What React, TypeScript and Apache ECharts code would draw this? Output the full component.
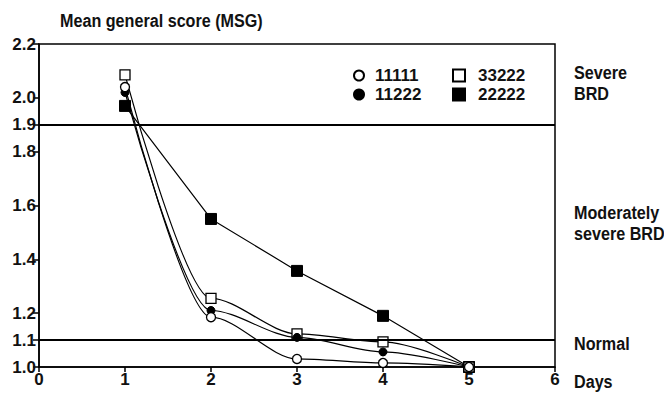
import React, { useEffect, useRef } from "react";
import * as echarts from "echarts";

const days = [1, 2, 3, 4, 5];
const s11111 = [2.04, 1.185, 1.03, 1.015, 1.0];
const s11222 = [2.02, 1.21, 1.11, 1.056, 1.0];
const s33222 = [2.085, 1.255, 1.123, 1.093, 1.0];
const s22222 = [1.97, 1.55, 1.357, 1.19, 1.0];
const yTicks = [1.0, 1.1, 1.2, 1.4, 1.6, 1.8, 1.9, 2.0, 2.2];
const refLines = [1.9, 1.1];
const FONT = "'Liberation Sans', Arial, sans-serif";

export default function App() {
  const ref = useRef<HTMLDivElement>(null);
  useEffect(() => {
    if (!ref.current) return;
    const chart = echarts.init(ref.current, null, { renderer: "svg" });
    const pts = (arr: number[]) => days.map((d, i) => [d, arr[i]]);
    const open = { color: "#fff", borderColor: "#000", borderWidth: 1.3 };
    const filled = { color: "#000", borderColor: "#000", borderWidth: 1 };
    const lineStyle = { color: "#000", width: 1.2 };
    const txt = { fontFamily: FONT, fontSize: 17, fontWeight: "bold" as const, color: "#111" };
    const gfont = `bold 19px ${FONT}`;
    const sx = 0.85;
    const gtext = (left: number, top: number, text: string, extra: any = {}) => ({
      type: "text", x: left, y: top, scaleX: sx,
      style: { fill: "#111", text, font: gfont, lineHeight: 21, ...extra },
    });
    chart.setOption({
      animation: false,
      backgroundColor: "#fff",
      textStyle: { fontFamily: FONT },
      grid: {
        left: 39, right: 109, top: 44, bottom: 27,
        show: true, borderColor: "#000", borderWidth: 1.5,
      },
      legend: [
        {
          left: 348, top: 62, orient: "vertical", itemGap: 2,
          itemWidth: 10, itemHeight: 10,
          textStyle: { ...txt, padding: [0, 0, 0, 6] },
          data: [
            { name: "11111", icon: "circle" },
            { name: "11222", icon: "circle" },
          ],
        },
        {
          left: 447, top: 62, orient: "vertical", itemGap: 2,
          itemWidth: 12, itemHeight: 12,
          textStyle: { ...txt, padding: [0, 0, 0, 8] },
          data: [
            { name: "33222", icon: "rect" },
            { name: "22222", icon: "rect" },
          ],
        },
      ],
      xAxis: {
        type: "value", min: 0, max: 6, interval: 1,
        axisLine: { lineStyle: { color: "#000", width: 1.5 } },
        axisTick: { show: true, length: 5, lineStyle: { color: "#000", width: 1.5 } },
        axisLabel: { ...txt, margin: 4 },
        splitLine: { show: false },
      },
      yAxis: {
        type: "value", min: 1.0, max: 2.2,
        axisLine: { show: true, lineStyle: { color: "#000", width: 1.5 } },
        axisTick: { show: true, length: 6, customValues: yTicks, lineStyle: { color: "#000", width: 1.5 } },
        axisLabel: {
          ...txt, margin: 3, customValues: yTicks,
          formatter: (v: number) => v.toFixed(1),
        },
        splitLine: { show: false },
      },
      graphic: [
        gtext(60, 10, "Mean general score (MSG)"),
        gtext(574, 62, "Severe\nBRD"),
        gtext(574, 202, "Moderately\nsevere BRD"),
        gtext(574, 333, "Normal"),
        gtext(574, 371, "Days"),
      ],
      series: [
        {
          name: "22222", type: "line", data: pts(s22222), symbol: "rect", symbolSize: 11,
          itemStyle: filled, lineStyle, z: 3,
          markLine: {
            silent: true, symbol: "none", label: { show: false },
            lineStyle: { color: "#000", width: 2, type: "solid" },
            data: refLines.map((v) => ({ yAxis: v })),
          },
        },
        {
          name: "33222", type: "line", data: pts(s33222), symbol: "rect", symbolSize: 10,
          smooth: 0.3, smoothMonotone: "x", itemStyle: open, lineStyle, z: 4,
        },
        {
          name: "11222", type: "line", data: pts(s11222), symbol: "circle", symbolSize: 8,
          smooth: 0.3, smoothMonotone: "x", itemStyle: filled, lineStyle, z: 5,
        },
        {
          name: "11111", type: "line", data: pts(s11111), symbol: "circle", symbolSize: 9,
          smooth: 0.3, smoothMonotone: "x", itemStyle: open, lineStyle, z: 6,
        },
      ],
    });
    return () => chart.dispose();
  }, []);
  return <div ref={ref} style={{ width: 664, height: 394, position: "absolute", left: 0, top: 0 }} />;
}
